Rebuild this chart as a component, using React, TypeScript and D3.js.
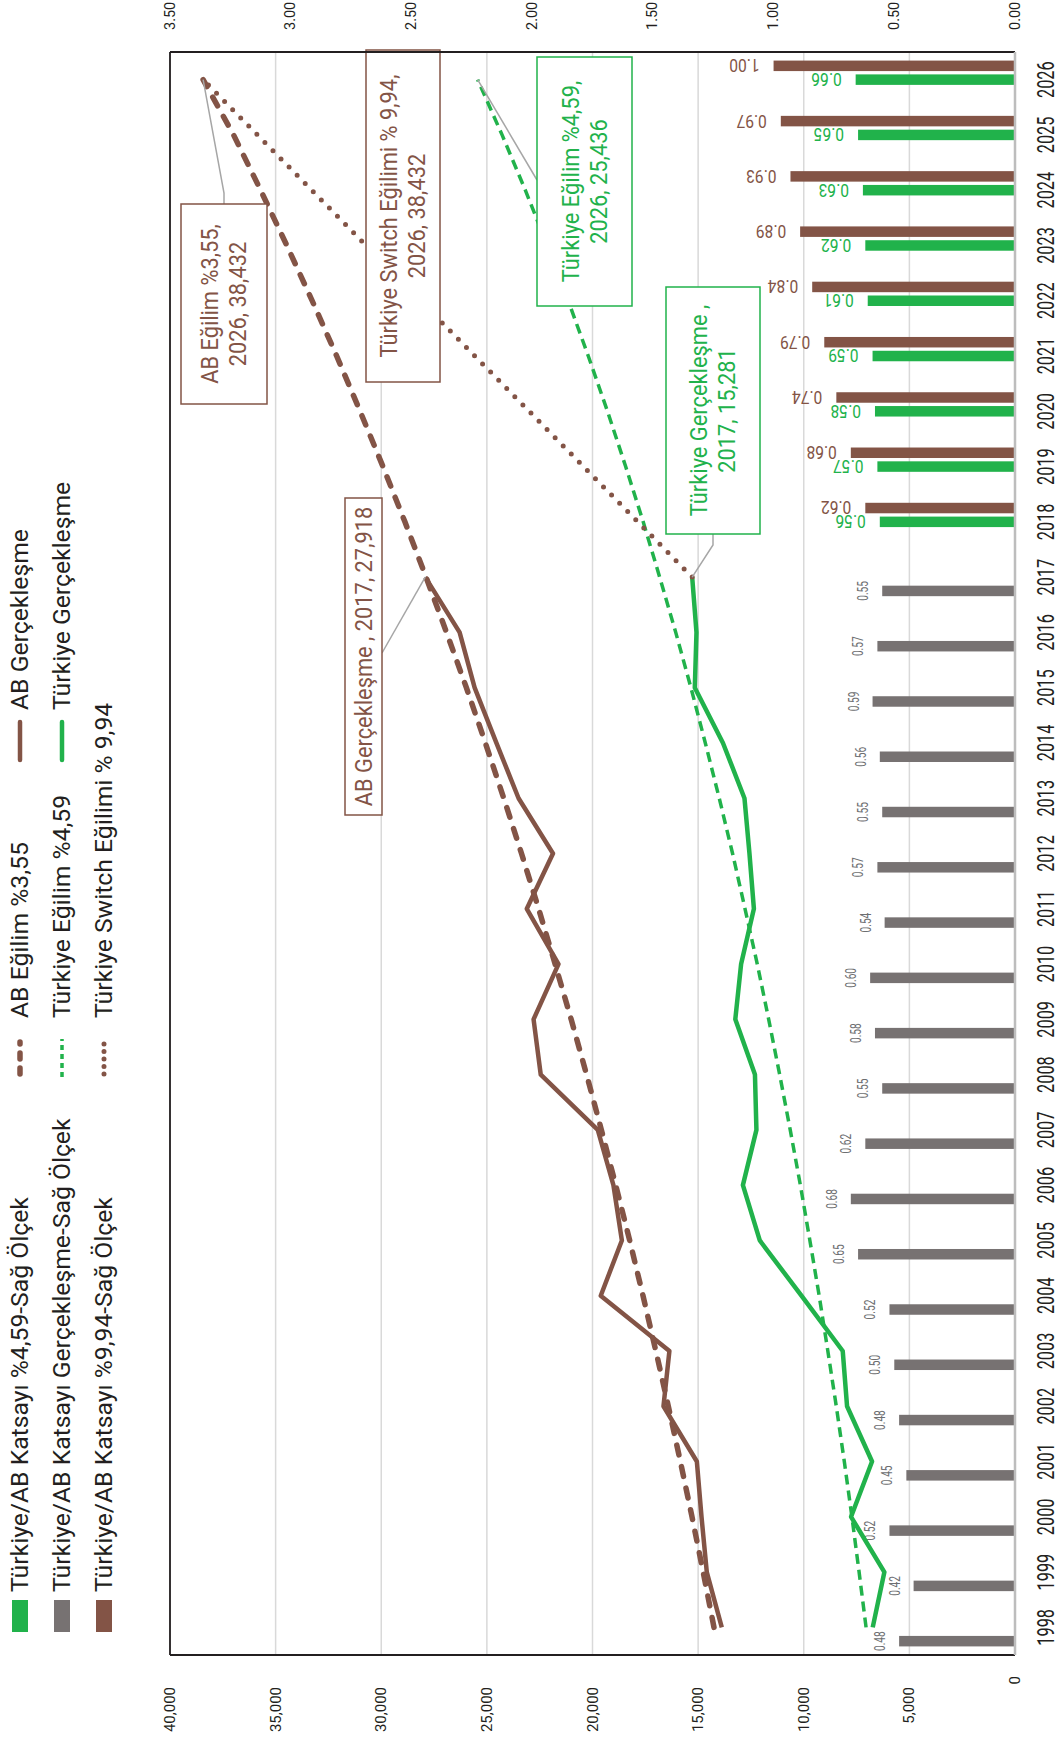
import React from "react";
import * as d3 from "d3";

// ---------- data ----------
const years = ["1998","1999","2000","2001","2002","2003","2004","2005","2006","2007","2008","2009","2010","2011","2012","2013","2014","2015","2016","2017","2018","2019","2020","2021","2022","2023","2024","2025","2026"];
const actualYears = ["1998","1999","2000","2001","2002","2003","2004","2005","2006","2007","2008","2009","2010","2011","2012","2013","2014","2015","2016","2017"];
const forecastYears = ["2018","2019","2020","2021","2022","2023","2024","2025","2026"];

const abActual = [13880, 14590, 14840, 15060, 16640, 16360, 19610, 18610, 19010, 19750, 22450, 22790, 21610, 23110, 21870, 23500, 24550, 25580, 26290, 27918];
const trActual = [6735, 6183, 7760, 6767, 7950, 8155, 10110, 12082, 12880, 12240, 12310, 13240, 12965, 12360, 12570, 12806, 13824, 15157, 15078, 15281];
const abTrend = [14250, 14760, 15290, 15840, 16410, 17000, 17610, 18240, 18900, 19580, 20280, 21010, 21770, 22550, 23360, 24200, 25070, 25970, 26910, 27880, 28880, 29920, 31000, 32110, 33270, 34470, 35710, 36990, 38432];
const trTrend = [7050, 7380, 7720, 8080, 8460, 8860, 9270, 9710, 10160, 10640, 11140, 11660, 12200, 12780, 13370, 14000, 14660, 15340, 16060, 16820, 17600, 18430, 19290, 20200, 21150, 22140, 23180, 24280, 25436];
const switchYears = ["2017", "2026"];
const switchTrend = [15281, 38432];

const ratioActual = [0.48, 0.42, 0.52, 0.45, 0.48, 0.50, 0.52, 0.65, 0.68, 0.62, 0.55, 0.58, 0.60, 0.54, 0.57, 0.55, 0.56, 0.59, 0.57, 0.55];
const ratio459 = [0.56, 0.57, 0.58, 0.59, 0.61, 0.62, 0.63, 0.65, 0.66];
const ratio994 = [0.62, 0.68, 0.74, 0.79, 0.84, 0.89, 0.93, 0.97, 1.00];

const leftTicks = [0, 5000, 10000, 15000, 20000, 25000, 30000, 35000, 40000];
const rightTicks = [0, 0.5, 1, 1.5, 2, 2.5, 3, 3.5];

// ---------- style ----------
const GREEN = "#21b24b";
const BROWN = "#835446";
const GRAYBAR = "#777272";
const TXT = "#231f20";
const GRID = "#d9d9d9";
const LEADER = "#a6a6a6";
const FONT = "Roboto, 'Noto Sans', 'DejaVu Sans', sans-serif";

function CText(props: any) {
  const { x, y, rot = 0, sx = 1, anchor = "middle", base = "central", size, color, children, weight } = props;
  return (
    <text
      transform={`translate(${x},${y}) rotate(${rot}) scale(${sx},1)`}
      textAnchor={anchor}
      dominantBaseline={base}
      fontSize={size}
      fill={color}
      fontWeight={weight || 400}
    >
      {children}
    </text>
  );
}

export default function App() {
  const SW = 1063, SH = 1745; // screen
  // landscape coordinate system: X along years, Y down; rotated -90deg onto the page
  const px0 = 90, px1 = 1693, pyTop = 170, pyBot = 1015;

  const x = d3.scaleBand<string>().domain(years).range([px0, px1]).padding(0);
  const xc = (yr: string) => (x(yr) as number) + x.bandwidth() / 2;
  const yL = d3.scaleLinear().domain([0, 40000]).range([pyBot, pyTop]);
  const yR = d3.scaleLinear().domain([0, 3.5]).range([pyBot, pyTop]);
  const slot = d3.scaleBand<string>().domain(["gray", "green", "brown"]).range([-19.05, 19.05]).paddingInner(0.24);

  const line = d3.line<[string, number]>().x(d => xc(d[0])).y(d => yL(d[1]));
  const zip = (ys: string[], vs: number[]) => ys.map((yr, i) => [yr, vs[i]] as [string, number]);

  const abActualPath = line(zip(actualYears, abActual)) || "";
  const trActualPath = line(zip(actualYears, trActual)) || "";
  const abTrendPath = line(zip(years, abTrend)) || "";
  const trTrendPath = line(zip(years, trTrend)) || "";
  const switchPath = line(zip(switchYears, switchTrend)) || "";

  const pt = (yr: string, v: number) => [xc(yr), yL(v)];

  const annFont = 23, annSx = 0.95, annGap = 28;
  const annotations = [
    { box: [1341, 181, 200, 86], lines: ["AB Eğilim %3,55,", "2026, 38,432"], color: BROWN,
      leader: [[1541, 224], [1552, 224], pt("2026", abTrend[abTrend.length - 1])] },
    { box: [1363, 366, 332, 74], lines: ["Türkiye Switch Eğilimi % 9,94,", "2026, 38,432"], color: BROWN, leader: null },
    { box: [1439, 537, 249, 95], lines: ["Türkiye Eğilim %4,59,", "2026, 25,436"], color: GREEN,
      leader: [[1565, 537], pt("2026", trTrend[trTrend.length - 1])] },
    { box: [1211, 666, 247, 94], lines: ["Türkiye Gerçekleşme ,", "2017, 15,281"], color: GREEN,
      leader: [[1211, 713], [1200, 713], pt("2017", trActual[trActual.length - 1])] },
    { box: [930, 345, 317, 37], lines: ["AB Gerçekleşme , 2017, 27,918"], color: BROWN,
      leader: [[1092, 382], pt("2017", abActual[abActual.length - 1])] },
  ];

  const legendRows = [20, 62, 104];
  const swatchX = 113, swatchW = 32, swatchTextX = 153;
  const col2X = 668, col3X = 985, markLen = 38;
  const legFont = 24, legSx = 1.03;

  return (
    <svg width={SW} height={SH} style={{ position: "absolute", left: 0, top: 0, background: "#fff" }} fontFamily={FONT}>
      <rect x={0} y={0} width={SW} height={SH} fill="#fff" />
      <g transform={`translate(0,${SH}) rotate(-90)`}>
        {/* gridlines */}
        {leftTicks.map(t => (
          <line key={"g" + t} x1={px0} x2={px1} y1={yL(t)} y2={yL(t)} stroke={GRID} strokeWidth={1.5} />
        ))}

        {/* bars */}
        {actualYears.map((yr, i) => (
          <rect key={"ga" + yr} x={xc(yr) + (slot("gray") as number)} y={yR(ratioActual[i])}
            width={slot.bandwidth()} height={yR(0) - yR(ratioActual[i])} fill={GRAYBAR} />
        ))}
        {forecastYears.map((yr, i) => (
          <rect key={"gr" + yr} x={xc(yr) + (slot("green") as number)} y={yR(ratio459[i])}
            width={slot.bandwidth()} height={yR(0) - yR(ratio459[i])} fill={GREEN} />
        ))}
        {forecastYears.map((yr, i) => (
          <rect key={"br" + yr} x={xc(yr) + (slot("brown") as number)} y={yR(ratio994[i])}
            width={slot.bandwidth()} height={yR(0) - yR(ratio994[i])} fill={BROWN} />
        ))}

        {/* bar labels */}
        {actualYears.map((yr, i) => (
          <CText key={"lga" + yr} x={xc(yr) + (slot("gray") as number) + slot.bandwidth() / 2} y={yR(ratioActual[i]) - 14}
            anchor="middle" base="alphabetic" size={14.5} sx={0.7} color="#6d6e71">{ratioActual[i].toFixed(2)}</CText>
        ))}
        {forecastYears.map((yr, i) => (
          <CText key={"lgr" + yr} x={xc(yr) + (slot("green") as number) + slot.bandwidth() / 2} y={yR(ratio459[i]) - 14}
            rot={-90} anchor="start" size={19} sx={0.82} color={GREEN}>{ratio459[i].toFixed(2)}</CText>
        ))}
        {forecastYears.map((yr, i) => (
          <CText key={"lbr" + yr} x={xc(yr) + (slot("brown") as number) + slot.bandwidth() / 2} y={yR(ratio994[i]) - 14}
            rot={-90} anchor="start" size={19} sx={0.82} color={BROWN}>{ratio994[i].toFixed(2)}</CText>
        ))}

        {/* lines */}
        <path d={abActualPath} fill="none" stroke={BROWN} strokeWidth={4.5} strokeLinejoin="round" />
        <path d={trActualPath} fill="none" stroke={GREEN} strokeWidth={4.5} strokeLinejoin="round" />
        <path d={abTrendPath} fill="none" stroke={BROWN} strokeWidth={5.5} strokeDasharray="10 12" strokeLinecap="round" />
        <path d={trTrendPath} fill="none" stroke={GREEN} strokeWidth={3.5} strokeDasharray="10 6" />
        <path d={switchPath} fill="none" stroke={BROWN} strokeWidth={5} strokeDasharray="0 11.5" strokeLinecap="round" />

        {/* annotations */}
        {annotations.map((a, i) => (
          <g key={"ann" + i}>
            {a.leader && (
              <polyline points={a.leader.map(p => p.join(",")).join(" ")} fill="none" stroke={LEADER} strokeWidth={1.5} />
            )}
            <rect x={a.box[0]} y={a.box[1]} width={a.box[2]} height={a.box[3]} fill="#fff" stroke={a.color} strokeWidth={1.5} />
            {a.lines.map((t, j) => (
              <CText key={j} x={a.box[0] + a.box[2] / 2}
                y={a.box[1] + a.box[3] / 2 + (j - (a.lines.length - 1) / 2) * annGap}
                size={annFont} sx={annSx} color={a.color}>{t}</CText>
            ))}
          </g>
        ))}

        {/* frame */}
        <line x1={px0} x2={px1} y1={pyTop} y2={pyTop} stroke={TXT} strokeWidth={1.8} />
        <line x1={px0} x2={px0} y1={pyTop} y2={pyBot} stroke={TXT} strokeWidth={1.8} />
        <line x1={px1} x2={px1} y1={pyTop} y2={pyBot} stroke={TXT} strokeWidth={1.8} />
        <line x1={px0} x2={px1} y1={pyBot} y2={pyBot} stroke="#bdbdbd" strokeWidth={2.5} />

        {/* year labels */}
        {years.map(yr => (
          <CText key={"y" + yr} x={xc(yr)} y={1046} size={24} sx={0.68} color={TXT}>{yr}</CText>
        ))}

        {/* left value axis (primary) */}
        {leftTicks.map(t => (
          <CText key={"l" + t} x={t === 0 ? 69 : 58} y={yL(t)} anchor="end" size={15} color={TXT}>
            {d3.format(",")(t)}
          </CText>
        ))}
        {/* right value axis (secondary) */}
        {rightTicks.map(t => (
          <CText key={"r" + t} x={1715} y={yR(t)} anchor="start" size={14.5} color={TXT}>{t.toFixed(2)}</CText>
        ))}

        {/* legend */}
        <g>
          {[
            { c: GREEN, t: "Türkiye/AB Katsayı %4,59-Sağ Ölçek" },
            { c: GRAYBAR, t: "Türkiye/AB Katsayı Gerçekleşme-Sağ Ölçek" },
            { c: BROWN, t: "Türkiye/AB Katsayı %9,94-Sağ Ölçek" },
          ].map((d, i) => (
            <g key={"ls" + i}>
              <rect x={swatchX} y={legendRows[i] - 8} width={swatchW} height={16} fill={d.c} />
              <CText x={swatchTextX} y={legendRows[i]} anchor="start" size={legFont} sx={legSx} color={TXT}>{d.t}</CText>
            </g>
          ))}
          {/* column 2 : trends */}
          <line x1={col2X + 3} x2={col2X + markLen - 3} y1={legendRows[0]} y2={legendRows[0]} stroke={BROWN} strokeWidth={5.5} strokeDasharray="6 9" strokeLinecap="round" />
          <CText x={col2X + markLen + 21} y={legendRows[0]} anchor="start" size={legFont} sx={legSx} color={TXT}>AB Eğilim %3,55</CText>
          <line x1={col2X} x2={col2X + markLen} y1={legendRows[1]} y2={legendRows[1]} stroke={GREEN} strokeWidth={3.5} strokeDasharray="5 4" />
          <CText x={col2X + markLen + 21} y={legendRows[1]} anchor="start" size={legFont} sx={legSx} color={TXT}>Türkiye Eğilim %4,59</CText>
          <line x1={col2X + 3} x2={col2X + markLen} y1={legendRows[2]} y2={legendRows[2]} stroke={BROWN} strokeWidth={5} strokeDasharray="0 7.5" strokeLinecap="round" />
          <CText x={col2X + markLen + 21} y={legendRows[2]} anchor="start" size={legFont} sx={legSx} color={TXT}>Türkiye Switch Eğilimi % 9,94</CText>
          {/* column 3 : actuals */}
          <line x1={col3X} x2={col3X + markLen} y1={legendRows[0]} y2={legendRows[0]} stroke={BROWN} strokeWidth={4.5} strokeLinecap="round" />
          <CText x={col3X + markLen + 12} y={legendRows[0]} anchor="start" size={legFont} sx={legSx} color={TXT}>AB Gerçekleşme</CText>
          <line x1={col3X} x2={col3X + markLen} y1={legendRows[1]} y2={legendRows[1]} stroke={GREEN} strokeWidth={4.5} strokeLinecap="round" />
          <CText x={col3X + markLen + 12} y={legendRows[1]} anchor="start" size={legFont} sx={legSx} color={TXT}>Türkiye Gerçekleşme</CText>
        </g>
      </g>
    </svg>
  );
}
